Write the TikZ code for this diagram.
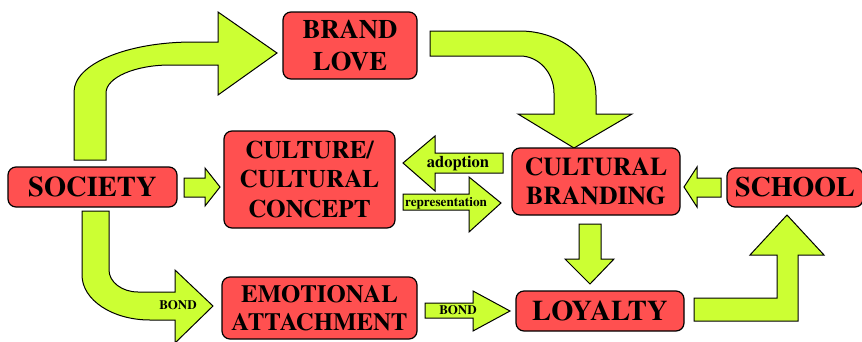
\documentclass[tikz,border=0pt]{standalone}
\usepackage{fontspec}
\setmainfont{texgyretermes}[Extension=.otf, UprightFont=*-regular, BoldFont=*-bold, ItalicFont=*-italic, BoldItalicFont=*-bolditalic]
\definecolor{boxred}{RGB}{255,80,80}
\definecolor{arrowgreen}{RGB}{204,255,51}
\begin{document}
\begin{tikzpicture}[x=1pt,y=-1pt,
  box/.style={draw=black, line width=1.2pt, fill=boxred, rounded corners=8pt,
    align=center, inner sep=0pt},
  blockarrow/.style={draw=black, line width=1pt, fill=arrowgreen, line join=miter},
  lbl/.style={inner sep=0pt}]
\useasboundingbox (0,0) rectangle (862,341);

% curved arrow society -> brand love
\draw[blockarrow] (74,160) -- (74,92) .. controls (74,64) and (127,42) .. (193,42)
  -- (218,42) -- (218,12) -- (277,53) -- (218,95) -- (218,65) -- (170,65)
  .. controls (135,65) and (106,77.5) .. (106,93) -- (106,160) -- cycle;
% curved arrow brand love -> cultural branding
\draw[blockarrow] (430,31) -- (520,31) .. controls (562,31) and (596,60) .. (596,95)
  -- (596,114) -- (632,114) -- (574,148) -- (518,114) -- (554,114) -- (554,93)
  .. controls (554,73) and (539,56) .. (520,56) -- (430,56) -- cycle;
% curved arrow society -> emotional attachment
\draw[blockarrow] (82,211) -- (82,275) .. controls (82,300) and (112.5,320) .. (150,320)
  -- (175,320) -- (175,343) -- (213,306) -- (175,270) -- (175,292) -- (138,292)
  .. controls (122,292) and (109,282) .. (109,270) -- (109,211) -- cycle;
% bent arrow loyalty -> school
\draw[blockarrow] (694,298) -- (777,298) -- (777,255) -- (750,255) -- (787,215)
  -- (824,255) -- (798,255) -- (798,321) -- (694,321) -- cycle;
% society -> culture
\draw[blockarrow] (184,178) -- (205,178) -- (205,168) -- (220,187) -- (205,206)
  -- (205,197) -- (184,197) -- cycle;
% adoption (leftwards)
\draw[blockarrow] (503,153) -- (435,153) -- (435,136) -- (403,163) -- (435,191)
  -- (435,173) -- (503,173) -- cycle;
% representation (rightwards)
\draw[blockarrow] (403,194) -- (469,194) -- (469,177) -- (501,203) -- (469,232)
  -- (469,210) -- (403,210) -- cycle;
% school -> cultural branding
\draw[blockarrow] (721,178) -- (697,178) -- (697,167) -- (684,187) -- (697,207)
  -- (697,197) -- (721,197) -- cycle;
% cultural branding -> loyalty
\draw[blockarrow] (579,224) -- (601,224) -- (601,259) -- (614,259) -- (590,284)
  -- (565,259) -- (579,259) -- cycle;
% emotional attachment -> loyalty
\draw[blockarrow] (425,303) -- (473,303) -- (473,291) -- (510,311) -- (473,331)
  -- (473,318) -- (425,318) -- cycle;

% boxes
\node[box, minimum width=169pt, minimum height=40pt, font=\bfseries\fontsize{28.5}{32}\selectfont]
  (society) at (92.5,187) {SOCIETY};
\node[box, minimum width=134pt, minimum height=67pt, font=\bfseries\fontsize{26.7}{32}\selectfont]
  (brand) at (350,45.5) {BRAND\\LOVE};
\node[box, minimum width=171pt, minimum height=97pt, font=\bfseries\fontsize{25.2}{29.5}\selectfont]
  (culture) at (309.5,179.5) {CULTURE/\\CULTURAL\\CONCEPT};
\node[box, minimum width=168pt, minimum height=67pt, font=\bfseries\fontsize{25.7}{29}\selectfont]
  (branding) at (596,181.5) {CULTURAL\\BRANDING};
\node[box, minimum width=136pt, minimum height=39pt, font=\bfseries\fontsize{28}{32}\selectfont]
  (school) at (795,187.5) {SCHOOL};
\node[box, minimum width=195pt, minimum height=62pt, font=\bfseries\fontsize{24.8}{28}\selectfont]
  (emotional) at (319.5,308) {EMOTIONAL\\ATTACHMENT};
\node[box, minimum width=168pt, minimum height=40pt, font=\bfseries\fontsize{28.5}{32}\selectfont]
  (loyalty) at (600,311) {LOYALTY};

% labels
\node[lbl, font=\bfseries\fontsize{16.5}{18}\selectfont] (adoptlbl) at (458,164) {adoption};
\node[lbl, font=\bfseries\fontsize{13.2}{15}\selectfont] (replbl) at (446,203) {representation};
\node[lbl, font=\bfseries\fontsize{13}{15}\selectfont] (bondone) at (178,305) {BOND};
\node[lbl, font=\bfseries\fontsize{13}{15}\selectfont] (bondtwo) at (458,310) {BOND};
\end{tikzpicture}
\end{document}
